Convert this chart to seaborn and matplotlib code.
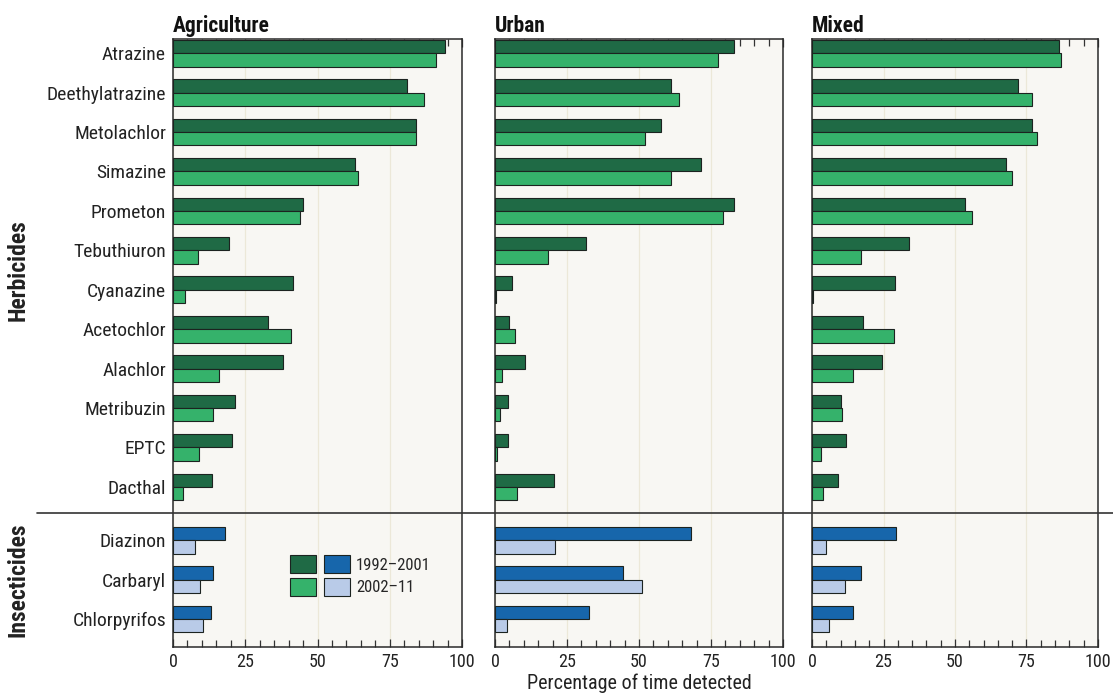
import numpy as np
import pandas as pd
import matplotlib
matplotlib.use("Agg")
import matplotlib.pyplot as plt
from matplotlib import font_manager
from matplotlib.patches import Patch
from matplotlib.lines import Line2D
from matplotlib.legend_handler import HandlerTuple
from matplotlib.ticker import MultipleLocator
import seaborn as sns

# ---- data -----------------------------------------------------------------
herbicides = ["Atrazine", "Deethylatrazine", "Metolachlor", "Simazine", "Prometon",
              "Tebuthiuron", "Cyanazine", "Acetochlor", "Alachlor", "Metribuzin",
              "EPTC", "Dacthal"]
insecticides = ["Diazinon", "Carbaryl", "Chlorpyrifos"]
periods = ["1992\u20132001", "2002\u201311"]
land_uses = ["Agriculture", "Urban", "Mixed"]

# percentage of time detected, herbicides (1992-2001, 2002-11)
agri_herb_early = [94, 81, 84, 63, 45, 19.5, 41.5, 33, 38, 21.5, 20.5, 13.5]
agri_herb_late = [91, 87, 84, 64, 44, 8.5, 4, 41, 16, 14, 9, 3.5]
urban_herb_early = [83, 61, 57.5, 71.5, 83, 31.5, 6, 5, 10.5, 4.5, 4.5, 20.5]
urban_herb_late = [77.5, 64, 52, 61, 79, 18.5, 0.4, 7, 2.5, 1.8, 0.8, 7.5]
mixed_herb_early = [86.5, 72, 77, 68, 53.5, 34, 29, 18, 24.5, 10, 12, 9]
mixed_herb_late = [87, 77, 78.5, 70, 56, 17, 0.5, 28.5, 14.5, 10.5, 3, 4]

# percentage of time detected, insecticides (1992-2001, 2002-11)
agri_ins_early = [18, 14, 13]
agri_ins_late = [7.5, 9.5, 10.5]
urban_ins_early = [68, 44.5, 32.5]
urban_ins_late = [21, 51, 4]
mixed_ins_early = [29.5, 17, 14.5]
mixed_ins_late = [5, 11.5, 6]

herb_values = {"Agriculture": (agri_herb_early, agri_herb_late),
               "Urban": (urban_herb_early, urban_herb_late),
               "Mixed": (mixed_herb_early, mixed_herb_late)}
ins_values = {"Agriculture": (agri_ins_early, agri_ins_late),
              "Urban": (urban_ins_early, urban_ins_late),
              "Mixed": (mixed_ins_early, mixed_ins_late)}

# ---- style ----------------------------------------------------------------
sns.set_theme(style="white")

# prefer a narrow sans face when one is available
installed = {f.name for f in font_manager.fontManager.ttflist}
narrow = [n for n in ["Liberation Sans Narrow", "Roboto Condensed", "DejaVu Sans Condensed",
                      "Roboto", "Liberation Sans"] if n in installed]
plt.rcParams["font.family"] = narrow + ["DejaVu Sans"]
if narrow and narrow[0] in ("Roboto", "Liberation Sans"):
    plt.rcParams["font.stretch"] = "condensed"

green_dark, green_light = "#1f6a45", "#35b26b"
blue_dark, blue_light = "#1766ab", "#b9cbe8"
edge = "#1c2320"
panel_bg = "#f8f7f3"
ink = "#222222"

W, H = 1113, 696
fig = plt.figure(figsize=(W / 100, H / 100), dpi=100)
fig.patch.set_facecolor("white")

# row layout: herbicides one per row, insecticides after a gap
herb_pos = np.arange(len(herbicides), dtype=float)
ins_pos = herb_pos[-1] + 1.35 + np.arange(len(insecticides), dtype=float)
sep_y = herb_pos[-1] + 0.66
y_top, y_bottom = -0.36, ins_pos[-1] + 0.71

panel_left_px = [173, 495, 812]
panel_w_px = [289, 288, 286]
ax_bottom = 49 / H
ax_height = 608 / H

def long_frame(names, pos, early, late):
    return pd.DataFrame({
        "pos": np.concatenate([pos, pos]),
        "value": np.concatenate([early, late]),
        "period": [periods[0]] * len(names) + [periods[1]] * len(names),
    })

axes = []
for i, lu in enumerate(land_uses):
    ax = fig.add_axes([panel_left_px[i] / W, ax_bottom, panel_w_px[i] / W, ax_height])
    ax.set_facecolor(panel_bg)
    axes.append(ax)

    dh = long_frame(herbicides, herb_pos, *herb_values[lu])
    di = long_frame(insecticides, ins_pos, *ins_values[lu])
    sns.barplot(data=dh, x="value", y="pos", hue="period", orient="h",
                native_scale=True, palette=[green_dark, green_light],
                width=0.68, edgecolor=edge, linewidth=0.8, legend=False,
                saturation=1, ax=ax, zorder=3)
    sns.barplot(data=di, x="value", y="pos", hue="period", orient="h",
                native_scale=True, palette=[blue_dark, blue_light],
                width=0.68, edgecolor=edge, linewidth=0.8, legend=False,
                saturation=1, ax=ax, zorder=3)

    ax.set_xlim(0, 100)
    ax.set_ylim(y_bottom, y_top)
    ax.xaxis.set_major_locator(MultipleLocator(25))
    ax.xaxis.set_minor_locator(MultipleLocator(5))
    ax.grid(axis="x", which="major", color="#ece8d8", linewidth=0.9, zorder=0)
    ax.grid(axis="y", visible=False)
    ax.set_axisbelow(True)
    ax.tick_params(axis="x", which="both", direction="in", top=True, bottom=True,
                   color="#333333", width=0.9, labelsize=13, labelcolor=ink, pad=4)
    ax.tick_params(axis="x", which="major", length=6)
    ax.tick_params(axis="x", which="minor", length=5)
    ax.set_xticks([0, 25, 50, 75, 100])
    ax.set_xticklabels(["0", "25", "50", "75", "100"])

    if i == 0:
        ax.set_yticks(np.concatenate([herb_pos, ins_pos]))
        ax.set_yticklabels(herbicides + insecticides, fontsize=14, color=ink)
        ax.tick_params(axis="y", length=0, pad=5)
    else:
        ax.set_yticks([])
    ax.set_xlabel("")
    ax.set_ylabel("")
    for s in ax.spines.values():
        s.set_visible(True)
        s.set_color("#2a2a2a")
        s.set_linewidth(1.1)

    ax.set_title(lu, loc="left", fontsize=15.5, fontweight="bold", color="#111111", pad=5)

axes[1].set_xlabel("Percentage of time detected", fontsize=14.5, color=ink, labelpad=2)

# group labels down the left margin
def fig_y(ax, yval):
    return fig.transFigure.inverted().transform(ax.transData.transform((0, yval)))[1]

fig.canvas.draw()
fig.text(18 / W, fig_y(axes[0], (herb_pos[0] + herb_pos[-1]) / 2), "Herbicides",
         rotation=90, ha="center", va="center", fontsize=17, fontweight="bold", color=ink)
fig.text(18 / W, fig_y(axes[0], (ins_pos[0] + ins_pos[-1]) / 2), "Insecticides",
         rotation=90, ha="center", va="center", fontsize=17, fontweight="bold", color=ink)

# separator between herbicides and insecticides, across all panels
ys = fig_y(axes[0], sep_y)
fig.add_artist(Line2D([37 / W, 1.0], [ys, ys], transform=fig.transFigure,
                      color="#333333", linewidth=1.2, zorder=5))

# legend: green and blue swatches side by side for each period
handles = [(Patch(facecolor=green_dark, edgecolor=edge, linewidth=0.8),
            Patch(facecolor=blue_dark, edgecolor=edge, linewidth=0.8)),
           (Patch(facecolor=green_light, edgecolor=edge, linewidth=0.8),
            Patch(facecolor=blue_light, edgecolor=edge, linewidth=0.8))]
fig.legend(handles, periods, handler_map={tuple: HandlerTuple(ndivide=None, pad=0.45)},
           loc="upper left", bbox_to_anchor=(290 / W, 1 - 555 / H),
           frameon=False, fontsize=12, handlelength=3.6, handleheight=1.3,
           handletextpad=0.35, labelspacing=0.28, borderpad=0, borderaxespad=0)

fig.savefig("out.png", dpi=100, facecolor="white")
